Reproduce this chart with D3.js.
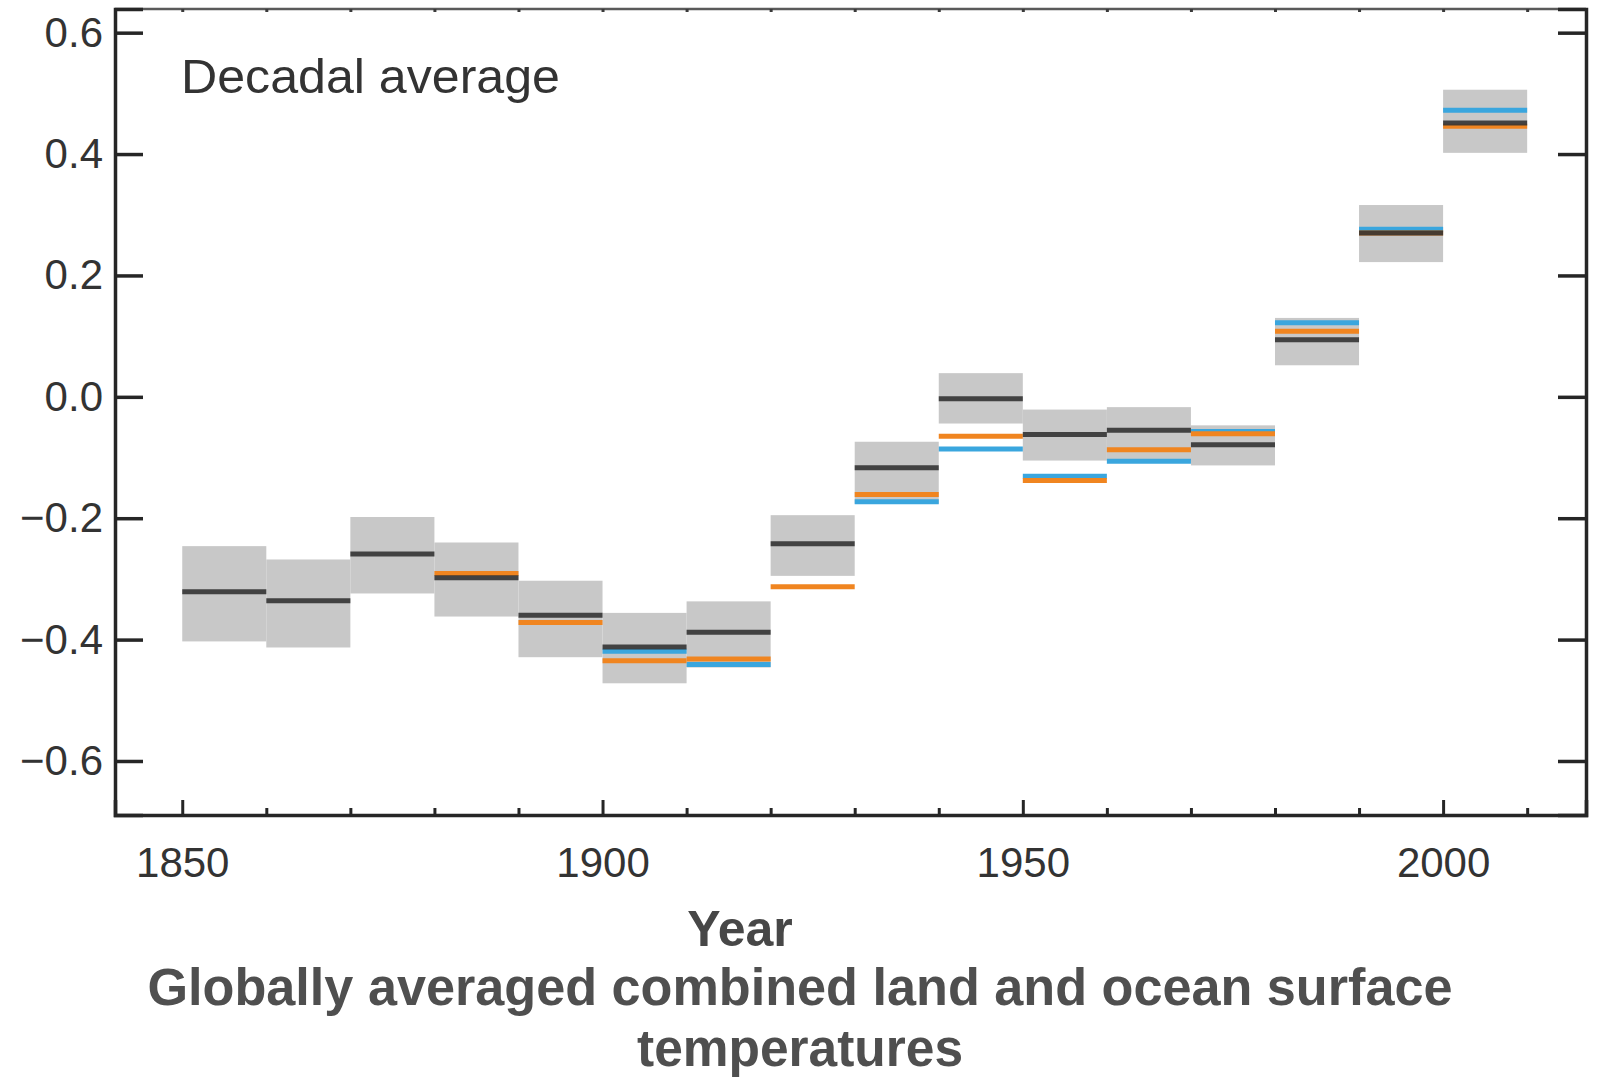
<!DOCTYPE html>
<html>
<head>
<meta charset="utf-8">
<script src="https://cdn.jsdelivr.net/npm/d3@7"></script>
<style>
  html, body { margin: 0; padding: 0; background: #fff; }
  svg { display: block; font-family: "Liberation Sans", Arial, sans-serif; }
</style>
</head>
<body>
<svg id="chart" width="1598" height="1078"></svg>
<script>
// Decade start years (each mark spans one decade)
const decades = [1850, 1860, 1870, 1880, 1890, 1900, 1910, 1920, 1930, 1940, 1950, 1960, 1970, 1980, 1990, 2000];

// Decadal mean anomalies (°C), three datasets; null where a dataset has no decade value
const seriesBlack  = [-0.321, -0.336, -0.259, -0.298, -0.360, -0.412, -0.388, -0.242, -0.117, -0.003, -0.062, -0.055, -0.079, 0.094, 0.270, 0.451];
const seriesOrange = [null, null, null, -0.291, -0.372, -0.435, -0.432, -0.313, -0.161, -0.065, -0.138, -0.087, -0.061, 0.108, 0.270, 0.446];
const seriesBlue   = [null, null, null, null, null, -0.419, -0.441, null, -0.173, -0.086, -0.131, -0.106, -0.057, 0.122, 0.276, 0.472];

// Uncertainty band for each decade
const bandLow  = [-0.403, -0.413, -0.324, -0.362, -0.429, -0.472, -0.446, -0.295, -0.176, -0.044, -0.105, -0.105, -0.113, 0.052, 0.222, 0.402];
const bandHigh = [-0.246, -0.268, -0.198, -0.240, -0.303, -0.356, -0.337, -0.195, -0.074, 0.039, -0.021, -0.017, -0.047, 0.130, 0.316, 0.506];

// Axis ticks
const yTicks = [0.6, 0.4, 0.2, 0.0, -0.2, -0.4, -0.6];
const xMajorTicks = [1850, 1900, 1950, 2000];
const xMinorTicks = [1860, 1870, 1880, 1890, 1910, 1920, 1930, 1940, 1960, 1970, 1980, 1990, 2010];

const svg = d3.select("#chart");
const margin = { left: 115, top: 9, right: 12, bottom: 263 };
const W = 1598, H = 1078;
const plotW = W - margin.left - margin.right;
const plotH = H - margin.top - margin.bottom;

const x = d3.scaleLinear().domain([1842, 2017]).range([0, plotW]);
const y = d3.scaleLinear().domain([-0.689, 0.639]).range([plotH, 0]);

const g = svg.append("g").attr("transform", `translate(${margin.left},${margin.top})`);

const rows = decades.map((d, i) => ({
  start: d, end: d + 10,
  black: seriesBlack[i], orange: seriesOrange[i], blue: seriesBlue[i],
  lo: bandLow[i], hi: bandHigh[i]
}));

// Uncertainty boxes
g.append("g").selectAll("rect").data(rows).join("rect")
  .attr("x", d => x(d.start))
  .attr("width", d => x(d.end) - x(d.start))
  .attr("y", d => y(d.hi))
  .attr("height", d => y(d.lo) - y(d.hi))
  .attr("fill", "#c8c8c8");

// Decadal means: blue, then orange, then black on top
const drawSeries = (key, color, opacity) => {
  g.append("g").selectAll("line").data(rows.filter(d => d[key] !== null)).join("line")
    .attr("x1", d => x(d.start))
    .attr("x2", d => x(d.end))
    .attr("y1", d => y(d[key]))
    .attr("y2", d => y(d[key]))
    .attr("stroke", color)
    .attr("stroke-opacity", opacity)
    .attr("stroke-width", 5);
};
drawSeries("blue", "#3aa6de", 1);
drawSeries("orange", "#f08520", 1);
drawSeries("black", "#333333", 0.9);

// Frame
const axisColor = "#262626";
g.append("line").attr("x1", 0).attr("x2", plotW).attr("y1", 0).attr("y2", 0)
  .attr("stroke", "#5a5a5a").attr("stroke-width", 2.5);

// Left axis with inward ticks
const yAxisL = d3.axisLeft(y).tickValues(yTicks).tickSize(-28).tickPadding(12)
  .tickFormat(d => d3.format(".1f")(d).replace("-", "\u2212"));
const gyl = g.append("g").call(yAxisL);
gyl.select(".domain").attr("stroke", axisColor).attr("stroke-width", 3.5);
gyl.selectAll(".tick line").attr("stroke", axisColor).attr("stroke-width", 3.5);
gyl.selectAll(".tick text")
  .attr("font-size", 42).attr("fill", "#333")
  .attr("font-family", "'Liberation Sans', Arial, sans-serif");

// Right axis with inward ticks, no labels
const yAxisR = d3.axisRight(y).tickValues(yTicks).tickSize(-28).tickFormat("");
const gyr = g.append("g").attr("transform", `translate(${plotW},0)`).call(yAxisR);
gyr.select(".domain").attr("stroke", axisColor).attr("stroke-width", 3.5);
gyr.selectAll(".tick line").attr("stroke", axisColor).attr("stroke-width", 3.5);

// Bottom axis: major ticks with labels, minor ticks without
const xAxisMajor = d3.axisBottom(x).tickValues(xMajorTicks).tickSize(-15).tickPadding(32)
  .tickFormat(d3.format("d"));
const gxb = g.append("g").attr("transform", `translate(0,${plotH})`).call(xAxisMajor);
gxb.select(".domain").attr("stroke", axisColor).attr("stroke-width", 3.5);
gxb.selectAll(".tick line").attr("stroke", axisColor).attr("stroke-width", 3);
gxb.selectAll(".tick text")
  .attr("font-size", 42).attr("fill", "#333")
  .attr("font-family", "'Liberation Sans', Arial, sans-serif");

const xAxisMinor = d3.axisBottom(x).tickValues(xMinorTicks).tickSize(-7).tickFormat("");
const gxm = g.append("g").attr("transform", `translate(0,${plotH})`).call(xAxisMinor);
gxm.select(".domain").remove();
gxm.selectAll(".tick line").attr("stroke", axisColor).attr("stroke-width", 3);

// Top axis: small inward ticks at every decade
const xAxisTop = d3.axisTop(x).tickValues(xMajorTicks.concat(xMinorTicks)).tickSize(-3).tickFormat("");
const gxt = g.append("g").call(xAxisTop);
gxt.select(".domain").remove();
gxt.selectAll(".tick line").attr("stroke", "#3a3a3a").attr("stroke-width", 3);

// Panel label
svg.append("text")
  .attr("x", 181).attr("y", 93)
  .attr("font-size", 48).attr("fill", "#333")
  .attr("textLength", 379).attr("lengthAdjust", "spacingAndGlyphs")
  .text("Decadal average");

// Axis title and caption
svg.append("text")
  .attr("x", 740).attr("y", 946).attr("text-anchor", "middle")
  .attr("font-size", 50).attr("font-weight", "bold").attr("fill", "#474747")
  .text("Year");

svg.append("text")
  .attr("x", 800).attr("y", 1005).attr("text-anchor", "middle")
  .attr("font-size", 51).attr("font-weight", "bold").attr("fill", "#4f4f4f")
  .attr("textLength", 1305).attr("lengthAdjust", "spacingAndGlyphs")
  .text("Globally averaged combined land and ocean surface");

svg.append("text")
  .attr("x", 800).attr("y", 1066).attr("text-anchor", "middle")
  .attr("font-size", 51).attr("font-weight", "bold").attr("fill", "#4f4f4f")
  .attr("textLength", 326).attr("lengthAdjust", "spacingAndGlyphs")
  .text("temperatures");
</script>
</body>
</html>
